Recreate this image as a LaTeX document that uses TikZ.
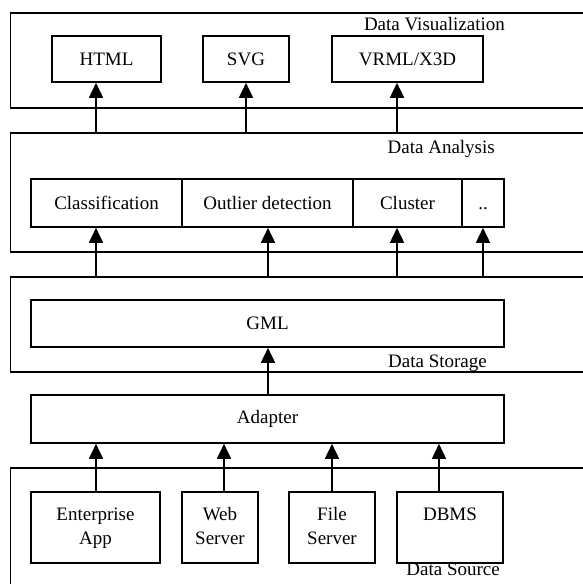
\documentclass[tikz,border=0pt]{standalone}
\usepackage{fontspec}
\setmainfont{Liberation Serif}
\usetikzlibrary{arrows.meta}
\tikzset{>={Triangle[width=14pt,length=15pt]},
  layer/.style={draw, line width=1.6pt, anchor=north west, minimum width=600pt, inner sep=0pt},
  box/.style={draw, line width=1.6pt, inner sep=0pt, align=center, font=\fontsize{19}{24}\selectfont},
  tag/.style={anchor=base east, inner sep=0pt, font=\fontsize{19}{24}\selectfont},
  link/.style={->, line width=1.6pt}}

\begin{document}
\begin{tikzpicture}[x=1pt,y=-1pt]
    \clip (0,0) rectangle (583,584);
    % layers
    \node[layer, minimum height=95pt] (vis) at (9.5,12) {};
    \node[layer, minimum height=119pt] (ana) at (9.5,132) {};
    \node[layer, minimum height=95pt] (sto) at (9.5,276) {};
    \node[layer, minimum height=140pt] (src) at (9.5,467) {};
    \node[tag] (vislabel) at (505,30) {Data Visualization};
    \node[tag] (analabel) at (495,153) {Data Analysis};
    \node[tag] (stolabel) at (487,367) {Data Storage};
    \node[tag] (srclabel) at (500,575) {Data Source};
    % visualization
    \node[box, minimum width=109pt, minimum height=46pt] (html) at (106.5,59) {HTML};
    \node[box, minimum width=86pt, minimum height=46pt] (svg) at (246,59) {SVG};
    \node[box, minimum width=151pt, minimum height=46pt] (vrml) at (407.5,59) {VRML/X3D};
    % analysis
    \node[box, minimum width=151pt, minimum height=48pt] (class) at (106.5,203) {Classification};
    \node[box, minimum width=171pt, minimum height=48pt] (outlier) at (267.5,203) {Outlier detection};
    \node[box, minimum width=109pt, minimum height=48pt] (cluster) at (407.5,203) {Cluster};
    \node[box, minimum width=42pt, minimum height=48pt] (dots) at (483,203) {\vphantom{Cl}..};
    % storage and adapter
    \node[box, minimum width=473pt, minimum height=47pt] (gml) at (267.5,323.5) {GML};
    \node[box, minimum width=473pt, minimum height=48pt] (adapter) at (267.5,419) {Adapter};
    % sources
    \node[box, minimum width=129pt, minimum height=71pt] (ent) at (95.5,527.5) {\strut Enterprise\\\strut App};
    \node[box, minimum width=76pt, minimum height=71pt] (web) at (220,527.5) {\strut Web\\\strut Server};
    \node[box, minimum width=86pt, minimum height=71pt] (file) at (332,527.5) {\strut File\\\strut Server};
    \node[box, minimum width=106pt, minimum height=71pt] (dbms) at (450,527.5) {\strut DBMS\\\strut};

    \foreach \x/\n in {96/ent,224/web,332/file,439/dbms}
        \draw[link] (\n.north -| \x,0) -- (adapter.south -| \x,0);
    \draw[link] (adapter.north -| 268,0) -- (gml.south -| 268,0);
    \foreach \x/\n in {96/class,268/outlier,397/cluster,483/dots}
        \draw[link] (sto.north -| \x,0) -- (\n.south -| \x,0);
    \foreach \x/\n in {96/html,246/svg,397/vrml}
        \draw[link] (ana.north -| \x,0) -- (\n.south -| \x,0);
\end{tikzpicture}
\end{document}
